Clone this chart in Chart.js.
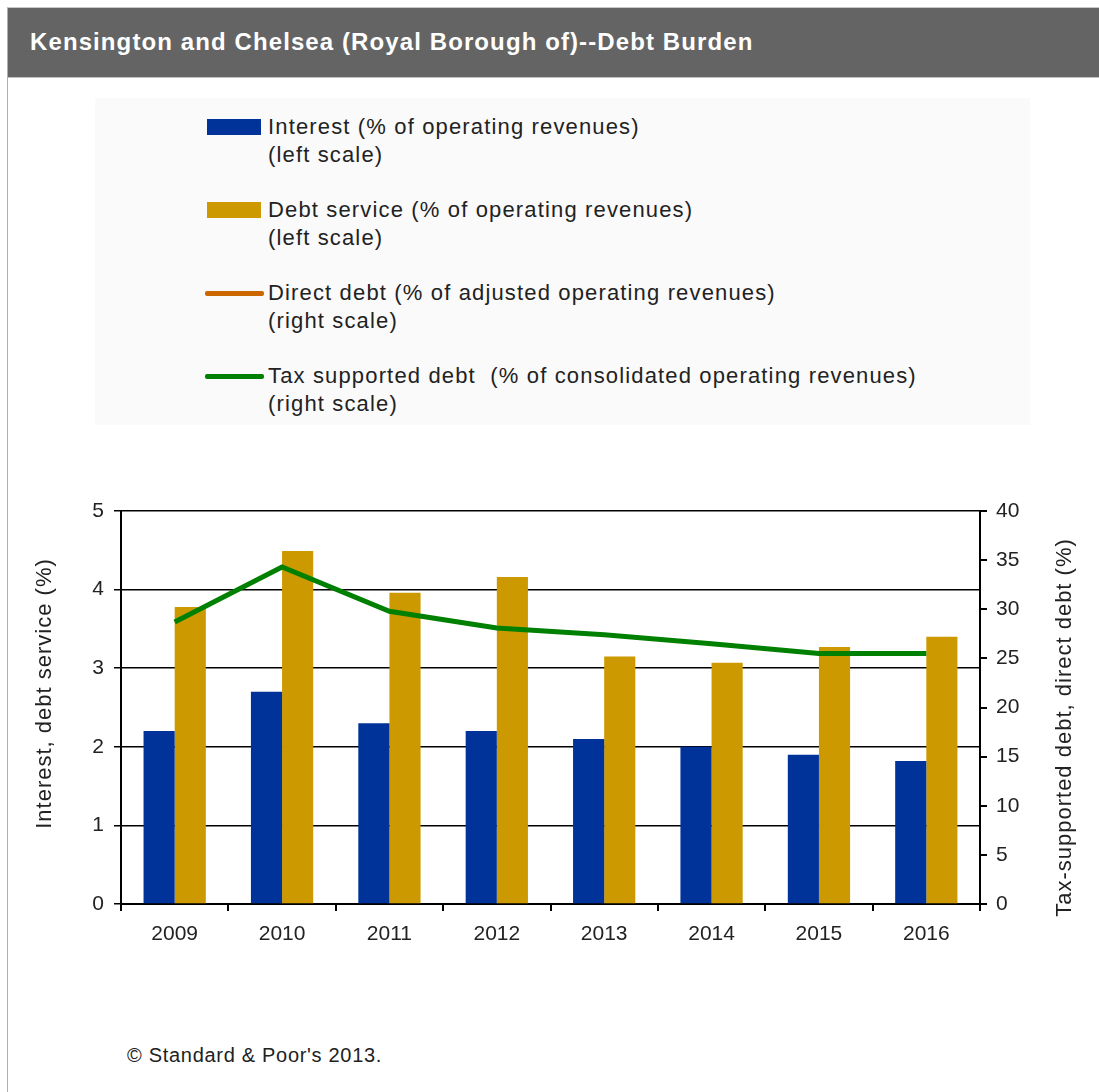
<!DOCTYPE html>
<html><head><meta charset="utf-8">
<script src="https://cdn.jsdelivr.net/npm/chart.js@4.4.1/dist/chart.umd.min.js"></script>
<style>
html,body{margin:0;padding:0;background:#fff;}
body{width:1099px;height:1092px;position:relative;overflow:hidden;font-family:"Liberation Sans",Arial,sans-serif;}
#frame{position:absolute;left:7px;top:7px;width:1092px;height:1085px;border-left:1px solid #b0b0b0;border-top:1px solid #c8c8c8;box-sizing:border-box;}
#hdr{position:absolute;left:8px;top:8px;width:1091px;height:69px;background:#646464;border-bottom:1px solid #c0c0c0;}
#hdr span{position:absolute;left:22px;top:20px;color:#fff;font-weight:bold;font-size:24px;letter-spacing:1.1px;line-height:28px;white-space:nowrap;}
#legend{position:absolute;left:95px;top:98px;width:935px;height:327px;background:#fafafa;}
.item{position:absolute;left:0;width:900px;height:60px;}
.sw{position:absolute;}
.txt{position:absolute;left:173px;top:0;font-size:22px;letter-spacing:1.15px;line-height:28px;color:#222;white-space:nowrap;}
#chartbox{position:absolute;left:0;top:480px;width:1099px;height:480px;}
#foot{position:absolute;left:127px;top:1043px;font-size:20px;letter-spacing:0.7px;line-height:24px;color:#222;white-space:nowrap;}
</style>
</head><body>
<div id="frame"></div>
<div id="hdr"><span>Kensington and Chelsea (Royal Borough of)--Debt Burden</span></div>
<div id="legend"></div>
<div id="chartbox"><canvas id="c" width="1099" height="480"></canvas></div>
<div id="foot">© Standard &amp; Poor's 2013.</div>
<script>
// ---- data ----
const years = ["2009","2010","2011","2012","2013","2014","2015","2016"];
const interest = [2.2, 2.7, 2.3, 2.2, 2.1, 2.0, 1.9, 1.82];
const debtService = [3.78, 4.49, 3.96, 4.16, 3.15, 3.07, 3.27, 3.40];
const directDebt = [null, null, null, null, null, null, null, null];
const taxSupported = [28.7, 34.3, 29.8, 28.1, 27.4, 26.5, 25.5, 25.5];
const leftTicks = [0, 1, 2, 3, 4, 5];
const rightTicks = [0, 5, 10, 15, 20, 25, 30, 35, 40];
const seriesNames = [
  ["Interest (% of operating revenues)", "(left scale)"],
  ["Debt service (% of operating revenues)", "(left scale)"],
  ["Direct debt (% of adjusted operating revenues)", "(right scale)"],
  ["Tax supported debt  (% of consolidated operating revenues)", "(right scale)"]
];
const leftTitle = "Interest, debt service (%)";
const rightTitle = "Tax-supported debt, direct debt (%)";

// ---- styles ----
const BLUE = "#003399", GOLD = "#CC9900", ORANGE = "#CC6600", GREEN = "#008000";
const swatches = [
  {type:"bar", color:BLUE},
  {type:"bar", color:GOLD},
  {type:"line", color:ORANGE},
  {type:"line", color:GREEN}
];

// HTML legend
const lg = document.getElementById("legend");
seriesNames.forEach((lines, i) => {
  const it = document.createElement("div");
  it.className = "item";
  it.style.top = (15 + 83 * i) + "px";
  const sw = document.createElement("div");
  sw.className = "sw";
  const s = swatches[i];
  if (s.type === "bar") {
    sw.style.left = "112px"; sw.style.top = "6px"; sw.style.width = "54px"; sw.style.height = "16px";
    sw.style.background = s.color;
  } else {
    sw.style.left = "110px"; sw.style.top = "12px"; sw.style.width = "59px"; sw.style.height = "5px";
    sw.style.background = s.color; sw.style.borderRadius = "2px";
  }
  it.appendChild(sw);
  const t = document.createElement("div");
  t.className = "txt";
  t.innerHTML = lines.map(l => l.replace(/ {2}/g, " &nbsp;")).join("<br>");
  it.appendChild(t);
  lg.appendChild(it);
});

const FONT = {family: "'Liberation Sans', Arial, sans-serif", size: 21};

// axis titles, both reading bottom-to-top
const axisTitles = {
  id: "axisTitles",
  afterDraw(chart) {
    const {ctx, chartArea} = chart;
    const mid = (chartArea.top + chartArea.bottom) / 2;
    const draw = (text, x, y) => {
      ctx.save();
      ctx.font = "22px 'Liberation Sans', Arial, sans-serif";
      try { ctx.letterSpacing = "1px"; } catch (e) {}
      ctx.fillStyle = "#222";
      ctx.textAlign = "center";
      ctx.textBaseline = "middle";
      ctx.translate(x, y);
      ctx.rotate(-Math.PI / 2);
      ctx.fillText(text, 0, 0);
      ctx.restore();
    };
    draw(leftTitle, chart.scales.y.left + 45, mid - 14);
    draw(rightTitle, chart.scales.y1.right - 34, mid + 20);
  }
};

new Chart(document.getElementById("c"), {
  type: "bar",
  data: {
    labels: years,
    datasets: [
      {label: seriesNames[0][0], data: interest, backgroundColor: BLUE, yAxisID: "y", order: 2,
       barPercentage: 1.0, categoryPercentage: 0.58},
      {label: seriesNames[1][0], data: debtService, backgroundColor: GOLD, yAxisID: "y", order: 2,
       barPercentage: 1.0, categoryPercentage: 0.58},
      {type: "line", label: seriesNames[2][0], data: directDebt, borderColor: ORANGE, borderWidth: 5,
       pointRadius: 0, yAxisID: "y1", order: 1},
      {type: "line", label: seriesNames[3][0], data: taxSupported, borderColor: GREEN, borderWidth: 5,
       pointRadius: 0, tension: 0, yAxisID: "y1", order: 1, borderCapStyle: "butt"}
    ]
  },
  plugins: [axisTitles],
  options: {
    responsive: false,
    animation: false,
    layout: {padding: {top: 31, left: 0, right: 0, bottom: 0}},
    plugins: {legend: {display: false}, tooltip: {enabled: false}},
    scales: {
      x: {
        grid: {drawOnChartArea: false, offset: true, tickLength: 7, color: "#000", lineWidth: 2},
        border: {color: "#000", width: 2},
        ticks: {font: FONT, color: "#222", padding: 11},
        afterFit: s => { s.height = 56; }
      },
      y: {
        position: "left", min: 0, max: 5,
        afterBuildTicks: s => { s.ticks = leftTicks.map(v => ({value: v})); },
        grid: {color: "#000", lineWidth: 1.5, tickLength: 7, drawTicks: true},
        border: {color: "#000", width: 2},
        ticks: {font: FONT, color: "#222", padding: 10},
        afterFit: s => { s.width = 121; }
      },
      y1: {
        position: "right", min: 0, max: 40,
        afterBuildTicks: s => { s.ticks = rightTicks.map(v => ({value: v})); },
        grid: {drawOnChartArea: false, color: "#000", lineWidth: 2, tickLength: 7},
        border: {color: "#000", width: 2},
        ticks: {font: FONT, color: "#222", padding: 9},
        afterFit: s => { s.width = 119; }
      }
    }
  }
});
</script>
</body></html>
